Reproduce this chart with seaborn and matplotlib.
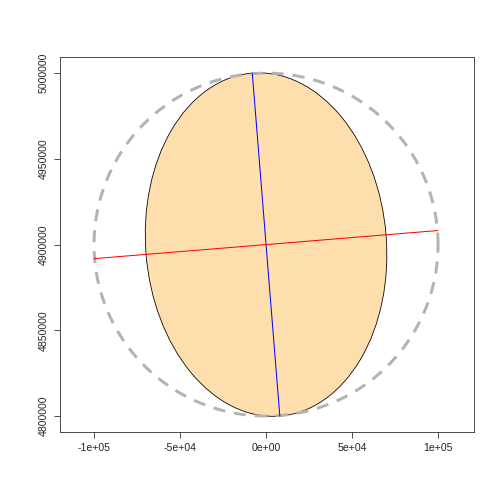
import numpy as np
import pandas as pd
import matplotlib
matplotlib.use("Agg")
import matplotlib.pyplot as plt
import seaborn as sns
from matplotlib.patches import Ellipse

sns.set_style("ticks")
plt.rcParams['font.family'] = ['Liberation Sans', 'DejaVu Sans']

center = (0, 4900000)
circle_radius = 100000
ellipse_axes = (70000, 100320)  # semi-minor, semi-major
ellipse_angle = 4.6
blue_x = [-8000, 8000]
blue_y = [5000000, 4800000]
red_x = [-100000, 100000]
red_y = [4891800, 4908200]
xticks = [-100000, -50000, 0, 50000, 100000]
xlabels = ["-1e+05", "-5e+04", "0e+00", "5e+04", "1e+05"]
yticks = [4800000, 4850000, 4900000, 4950000, 5000000]

fig = plt.figure(figsize=(7, 7), dpi=72)
ax = fig.add_axes([60/504, 72/504, 414/504, 375/504])

ax.add_patch(Ellipse(center, 2*ellipse_axes[0], 2*ellipse_axes[1], angle=ellipse_angle,
                     facecolor="#FFDEAD", edgecolor="black", lw=0.8))
t = np.linspace(0, 2*np.pi, 400)
circ = pd.DataFrame({"x": center[0] + circle_radius*np.cos(t),
                     "y": center[1] + circle_radius*np.sin(t)})
ax.plot(circ.x, circ.y, color="#B3B3B3", lw=3, ls=(0, (4, 3)))
sns.lineplot(x=blue_x, y=blue_y, ax=ax, color="blue", lw=1, sort=False, estimator=None)
sns.lineplot(x=red_x, y=red_y, ax=ax, color="red", lw=1, sort=False, estimator=None)

ax.set_xlim(-119800, 120900)
ax.set_ylim(4790700, 5009400)
ax.set_xticks(xticks)
ax.set_xticklabels(xlabels, fontsize=10.5)
ax.set_yticks(yticks)
ax.set_yticklabels([str(v) for v in yticks], fontsize=10.5, rotation=90, va="center")
ax.tick_params(length=6, width=0.8, pad=5)
for s in ax.spines.values():
    s.set_visible(True)
    s.set_linewidth(0.8)
fig.savefig("out.png", dpi=72)
